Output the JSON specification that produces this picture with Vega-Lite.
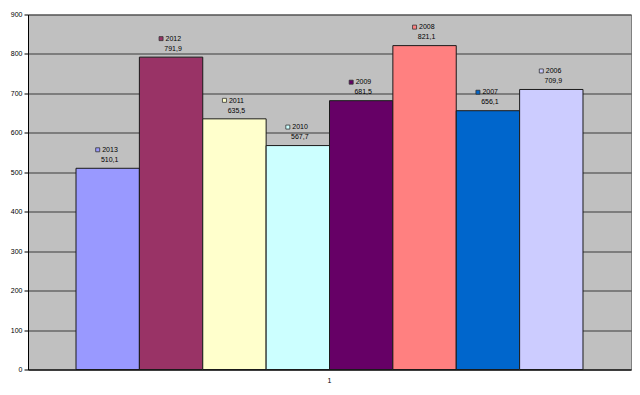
{
  "$schema": "https://vega.github.io/schema/vega-lite/v6.json",
  "width": 603,
  "height": 355,
  "autosize": "none",
  "padding": {"left": 28, "top": 14.5, "right": 9, "bottom": 25.5},
  "background": "white",
  "config": {
    "locale": {"number": {"decimal": ",", "thousands": ".", "grouping": [3], "currency": ["", ""]}},
    "view": {"fill": "#C0C0C0", "stroke": "#808080", "strokeWidth": 1},
    "font": "Liberation Sans"
  },
  "data": {
    "values": [
      {"cat": "1", "year": "2013", "value": 510.1},
      {"cat": "1", "year": "2012", "value": 791.9},
      {"cat": "1", "year": "2011", "value": 635.5},
      {"cat": "1", "year": "2010", "value": 567.7},
      {"cat": "1", "year": "2009", "value": 681.5},
      {"cat": "1", "year": "2008", "value": 821.1},
      {"cat": "1", "year": "2007", "value": 656.1},
      {"cat": "1", "year": "2006", "value": 709.9}
    ]
  },
  "encoding": {
    "x": {
      "field": "cat", "type": "nominal",
      "scale": {"paddingInner": 0, "paddingOuter": 0.0947},
      "axis": {"title": null, "labelAngle": 0, "ticks": false, "domain": true, "domainColor": "#000000", "labelFontSize": 7, "labelPadding": 7, "labelColor": "#000000", "grid": false}
    },
    "xOffset": {
      "field": "year", "type": "nominal",
      "scale": {"domain": ["2013", "2012", "2011", "2010", "2009", "2008", "2007", "2006"], "paddingInner": 0, "paddingOuter": 0}
    },
    "y": {
      "field": "value", "type": "quantitative",
      "scale": {"domain": [0, 900], "nice": false},
      "axis": {"title": null, "values": [0, 100, 200, 300, 400, 500, 600, 700, 800, 900], "grid": true, "gridColor": "#3a3a3a", "gridWidth": 1, "domainColor": "#000000", "tickColor": "#000000", "tickSize": 4, "labelFontSize": 7, "labelPadding": 2, "labelColor": "#000000", "format": "d"}
    },
    "color": {
      "field": "year", "type": "nominal",
      "scale": {
        "domain": ["2013", "2012", "2011", "2010", "2009", "2008", "2007", "2006"],
        "range": ["#9999FF", "#993366", "#FFFFCC", "#CCFFFF", "#660066", "#FF8080", "#0066CC", "#CCCCFF"]
      },
      "legend": null
    }
  },
  "layer": [
    {"mark": {"type": "bar", "stroke": "#1a1a1a", "strokeWidth": 1, "opacity": 1}},
    {"mark": {"type": "point", "shape": "M-12,-20.5L-8,-20.5L-8,-16.5L-12,-16.5Z", "size": 4, "filled": true, "stroke": "#333333", "strokeWidth": 0.8, "opacity": 1}},
    {"mark": {"type": "text", "align": "left", "baseline": "middle", "dx": -5.5, "dy": -18.3, "fontSize": 7, "color": "#000000"}, "encoding": {"text": {"field": "year"}, "color": {"value": "#000000"}}},
    {"mark": {"type": "text", "align": "center", "baseline": "middle", "dx": 2, "dy": -8.3, "fontSize": 7}, "encoding": {"text": {"field": "value", "type": "quantitative", "format": ".1f"}, "color": {"value": "#000000"}}}
  ]
}
